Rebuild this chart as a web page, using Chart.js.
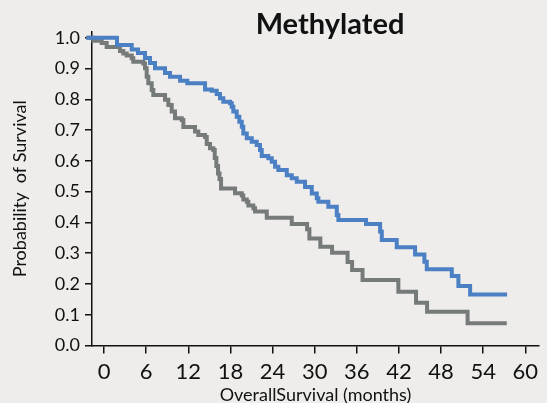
<!DOCTYPE html>
<html>
<head>
<meta charset="utf-8">
<title>Methylated</title>
<script src="https://cdn.jsdelivr.net/npm/chart.js@4.4.1/dist/chart.umd.min.js"></script>
<style>
  html, body { margin: 0; padding: 0; background: #eeedeb; }
  #wrap { width: 547px; height: 403px; }
</style>
</head>
<body>
<div id="wrap"><canvas id="km" width="547" height="403"></canvas></div>
<script>
// months at which each curve steps down, and survival after the step
var blueMonths = [-2.5, 1.85, 3.95, 4.84, 5.84, 6.55, 7.26, 8.69, 9.40, 10.83, 11.87, 14.39, 15.34,
  16.05, 16.52, 16.99, 17.95, 18.19, 18.42, 18.90, 19.27, 19.62, 19.84, 20.33, 21.04, 21.75, 22.22,
  22.46, 23.40, 23.89, 24.36, 24.83, 26.03, 26.74, 27.45, 28.63, 29.59, 30.30, 30.53, 31.95, 33.15,
  33.38, 37.32, 39.32, 39.56, 41.69, 44.30, 45.63, 45.97, 49.53, 50.47, 52.14, 57.41];
var blueSurv = [1.0, 0.976, 0.962, 0.950, 0.934, 0.918, 0.901, 0.885, 0.873, 0.860, 0.852, 0.832, 0.828,
  0.817, 0.803, 0.792, 0.787, 0.776, 0.760, 0.743, 0.727, 0.711, 0.689, 0.673, 0.662, 0.651, 0.635,
  0.616, 0.608, 0.597, 0.581, 0.570, 0.553, 0.543, 0.532, 0.515, 0.494, 0.478, 0.467, 0.451, 0.424,
  0.408, 0.395, 0.370, 0.343, 0.319, 0.296, 0.272, 0.248, 0.226, 0.193, 0.166, 0.166];

var grayMonths = [-2.5, -1.52, -0.33, 0.38, 2.28, 2.75, 3.23, 3.95, 4.17, 5.60, 5.84, 6.08, 6.31,
  6.79, 7.02, 8.69, 9.16, 9.64, 10.11, 11.07, 11.30, 12.96, 13.43, 14.39, 14.63, 15.10, 15.57,
  15.77, 16.00, 16.24, 16.45, 16.67, 18.66, 19.62, 19.84, 20.33, 20.56, 21.27, 21.51, 23.18, 26.74,
  28.92, 29.25, 30.81, 32.48, 34.69, 35.33, 36.82, 41.92, 44.44, 46.01, 51.78, 57.36];
var graySurv = [1.0, 0.990, 0.983, 0.970, 0.957, 0.949, 0.942, 0.933, 0.922, 0.916, 0.901, 0.873, 0.852,
  0.830, 0.814, 0.798, 0.781, 0.760, 0.738, 0.733, 0.710, 0.695, 0.684, 0.677, 0.655, 0.641, 0.635,
  0.609, 0.583, 0.559, 0.541, 0.510, 0.495, 0.487, 0.474, 0.467, 0.455, 0.446, 0.435, 0.415, 0.395,
  0.378, 0.348, 0.321, 0.301, 0.271, 0.245, 0.213, 0.175, 0.139, 0.110, 0.072, 0.072];

var xTicks = [0, 6, 12, 18, 24, 30, 36, 42, 48, 54, 60];
var yTicks = [0, 0.1, 0.2, 0.3, 0.4, 0.5, 0.6, 0.7, 0.8, 0.9, 1.0];

(function () {
  var BG = "#eeedeb";
  var INK = "#111";
  var FONT = "Lato, 'Open Sans', sans-serif";

  function toPoints(xs, ys) {
    return xs.map(function (x, i) {
      return { x: x, y: ys[i] };
    });
  }

  var backdrop = {
    id: "backdrop",
    beforeDraw: function (chart) {
      var ctx = chart.ctx;
      ctx.save();
      ctx.fillStyle = BG;
      ctx.fillRect(0, 0, chart.width, chart.height);
      ctx.restore();
    },
    afterDraw: function (chart) {
      var ctx = chart.ctx;
      ctx.save();
      ctx.fillStyle = INK;
      ctx.font = "bold 29px " + FONT;
      ctx.textAlign = "center";
      ctx.textBaseline = "alphabetic";
      ctx.fillText("Methylated", 330, 34);
      ctx.restore();
    },
  };

  function line(label, pts, color) {
    return {
      label: label,
      data: pts,
      borderColor: color,
      borderWidth: 4,
      stepped: true,
      pointRadius: 0,
      fill: false,
      clip: false,
    };
  }

  new Chart(document.getElementById("km"), {
    type: "line",
    data: {
      datasets: [
        line("Methylated, blue arm", toPoints(blueMonths, blueSurv), "#4b80c4"),
        line("Methylated, gray arm", toPoints(grayMonths, graySurv), "#767b7a"),
      ],
    },
    plugins: [backdrop],
    options: {
      responsive: false,
      animation: false,
      layout: { padding: { top: 32, right: 8, left: 0, bottom: 0 } },
      plugins: { legend: { display: false }, tooltip: { enabled: false } },
      scales: {
        x: {
          type: "linear",
          min: -1.71,
          max: 61.95,
          afterBuildTicks: function (scale) {
            scale.ticks = xTicks.map(function (v) { return { value: v }; });
          },
          afterFit: function (scale) { scale.height = 57.5; },
          border: { display: true, color: INK, width: 1.5 },
          grid: { display: true, drawOnChartArea: false, drawTicks: true, tickLength: 8, color: INK, lineWidth: 1.5 },
          ticks: { color: INK, padding: 5, maxRotation: 0, autoSkip: false, font: { family: FONT, size: 22 } },
          title: {
            display: true,
            text: "OverallSurvival (months)",
            color: INK,
            padding: { top: 0, bottom: 0 },
            font: { family: FONT, size: 18, lineHeight: 0.85 },
          },
        },
        y: {
          type: "linear",
          min: 0,
          max: 1.0185,
          afterBuildTicks: function (scale) {
            scale.ticks = yTicks.map(function (v) { return { value: v }; });
          },
          afterFit: function (scale) { scale.width = 92; },
          border: { display: true, color: INK, width: 1.5 },
          grid: { display: true, drawOnChartArea: false, drawTicks: true, tickLength: 7, color: INK, lineWidth: 1.5 },
          ticks: {
            color: INK,
            padding: 5,
            autoSkip: false,
            font: { family: FONT, size: 18 },
            callback: function (v) { return Number(v).toFixed(1); },
          },
          title: {
            display: true,
            text: "Probability  of Survival",
            color: INK,
            padding: { top: 9, bottom: 0 },
            font: { family: FONT, size: 18 },
          },
        },
      },
    },
  });
})();
</script>
</body>
</html>
